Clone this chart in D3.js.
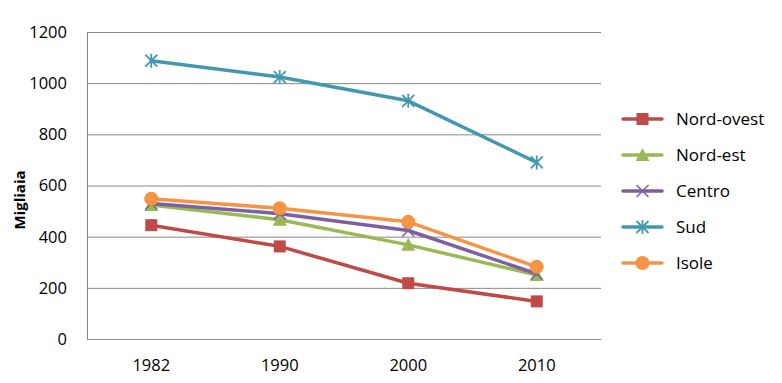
<!DOCTYPE html>
<html><head><meta charset="utf-8">
<script src="https://cdn.jsdelivr.net/npm/d3@7"></script>
<style>body{margin:0;background:#fff}svg{display:block}text{font-family:"Open Sans","Noto Sans",sans-serif}</style>
</head><body><svg id="c" width="782" height="383"></svg>
<script>
const categories = ["1982","1990","2000","2010"];
const seriesNames = ["Nord-ovest","Nord-est","Centro","Sud","Isole"];
const nordOvest = [445, 362, 218, 147];
const nordEst = [524, 466, 368, 250];
const centro = [530, 490, 424, 255];
const sud = [1088, 1024, 931, 690];
const isole = [548, 511, 458, 282];
const yTicks = [0,200,400,600,800,1000,1200];

const values = [nordOvest, nordEst, centro, sud, isole];
const colors = ["#BE4B48","#98B954","#7D60A0","#4198AF","#F59444"];
const markers = ["square","triangle","x","star","circle"];

const svg = d3.select("#c");
const L=87, R=601, T=32, B=339;
const x = d3.scaleBand().domain(categories).range([L,R]);
const y = d3.scaleLinear().domain([0,1200]).range([B,T]);

// gridlines
svg.append("g").selectAll("line").data(yTicks.filter(d=>d>0)).join("line")
  .attr("x1",L).attr("x2",R).attr("y1",d=>y(d)+0.5).attr("y2",d=>y(d)+0.5)
  .attr("stroke","#868686").attr("stroke-width",1);
// axes
svg.append("line").attr("x1",L+0.5).attr("x2",L+0.5).attr("y1",T).attr("y2",B+0.5).attr("stroke","#868686");
svg.append("line").attr("x1",L).attr("x2",R).attr("y1",B+0.5).attr("y2",B+0.5).attr("stroke","#868686");

// y tick labels
svg.append("g").selectAll("text").data(yTicks).join("text")
  .attr("x",67).attr("y",d=>y(d)).attr("dy","0.36em").attr("text-anchor","end")
  .attr("font-size",16.5).attr("fill","#000").text(d=>d);
// x tick labels
svg.append("g").selectAll("text").data(categories).join("text")
  .attr("x",d=>x(d)+x.bandwidth()/2).attr("y",371).attr("text-anchor","middle")
  .attr("font-size",16.5).attr("fill","#000").text(d=>d);
// y title
svg.append("text").attr("transform","translate(25,200) rotate(-90)")
  .attr("text-anchor","middle").attr("font-size",15).attr("font-weight","bold").text("Migliaia");

function drawMarker(g, type, cx, cy, color){
  const s=6;
  if(type==="square") g.append("rect").attr("x",cx-s).attr("y",cy-s).attr("width",2*s).attr("height",2*s).attr("fill",color);
  else if(type==="triangle") g.append("path").attr("d",`M${cx},${cy-7}L${cx+7},${cy+6}L${cx-7},${cy+6}Z`).attr("fill",color);
  else if(type==="circle") g.append("circle").attr("cx",cx).attr("cy",cy).attr("r",7).attr("fill",color);
  else if(type==="x") g.append("path").attr("d",`M${cx-6},${cy-6}L${cx+6},${cy+6}M${cx+6},${cy-6}L${cx-6},${cy+6}`).attr("stroke",color).attr("stroke-width",1.5);
  else if(type==="star") g.append("path").attr("d",`M${cx-6},${cy-6}L${cx+6},${cy+6}M${cx+6},${cy-6}L${cx-6},${cy+6}M${cx},${cy-7}L${cx},${cy+7}`).attr("stroke",color).attr("stroke-width",1.8);
}

const line = d3.line().x((d,i)=>x(categories[i])+x.bandwidth()/2).y(d=>y(d));
values.forEach((vals,si)=>{
  const g = svg.append("g");
  g.append("path").attr("d",line(vals)).attr("fill","none").attr("stroke",colors[si]).attr("stroke-width",3.5).attr("stroke-linejoin","round").attr("stroke-linecap","round");
  vals.forEach((v,i)=>drawMarker(g, markers[si], x(categories[i])+x.bandwidth()/2, y(v), colors[si]));
});

// legend
const ly = d3.scalePoint().domain(seriesNames).range([119,263]);
seriesNames.forEach((n,si)=>{
  const g = svg.append("g");
  const cy = ly(n);
  g.append("line").attr("x1",623).attr("x2",662).attr("y1",cy).attr("y2",cy).attr("stroke",colors[si]).attr("stroke-width",3.5).attr("stroke-linecap","round");
  drawMarker(g, markers[si], 642.5, cy, colors[si]);
  g.append("text").attr("x",676).attr("y",cy).attr("dy","0.36em").attr("font-size",17).text(n);
});
</script></body></html>
